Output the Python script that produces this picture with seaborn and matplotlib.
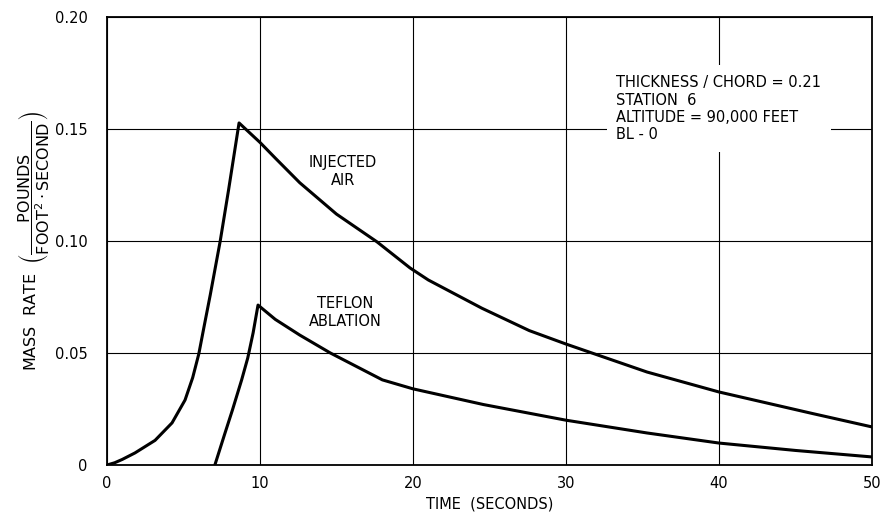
import matplotlib
matplotlib.use("Agg")
import matplotlib.pyplot as plt
import seaborn as sns
import pandas as pd

# style: plain white, black ink like the scanned report
sns.set_style("white")
plt.rcParams['font.family'] = ['DejaVu Sans']
plt.rcParams['mathtext.fontset'] = 'dejavusans'
plt.rcParams['text.color'] = 'black'
plt.rcParams['axes.labelcolor'] = 'black'

# values
air_time = [0, 0.5, 1.0, 1.83, 3.14, 4.25, 5.1, 5.6, 6.0, 6.35, 6.75, 7.4, 7.95, 8.63,
            10.0, 11.0, 12.6, 15.0, 17.65, 19.8, 21.0, 24.5, 27.6, 30.0,
            35.3, 40.0, 46.1, 50.0]
air_rate = [0, 0.001, 0.0025, 0.0054, 0.011, 0.0188, 0.029, 0.039, 0.0496, 0.062, 0.076,
            0.100, 0.123, 0.1527,
            0.144, 0.137, 0.126, 0.112, 0.0996, 0.088, 0.0826, 0.070, 0.060, 0.054,
            0.0415, 0.0326, 0.023, 0.017]

teflon_time = [7.05, 7.7, 8.2, 8.8, 9.2, 9.55, 9.87, 11.0, 12.6, 14.6, 18.0, 20.0, 24.6, 30.0,
               35.3, 40.0, 45.0, 50.0]
teflon_rate = [0, 0.014, 0.0246, 0.038, 0.0478, 0.059, 0.0714, 0.065, 0.058, 0.050, 0.038,
               0.034, 0.027, 0.020, 0.0143, 0.0098, 0.0065, 0.0036]

x_ticks = [0, 10, 20, 30, 40, 50]
y_ticks = [0, 0.05, 0.10, 0.15, 0.20]
y_tick_labels = ['0', '0.05', '0.10', '0.15', '0.20']

note_lines = ['THICKNESS / CHORD = 0.21', 'STATION  6',
              'ALTITUDE = 90,000 FEET', 'BL - 0']

air_df = pd.DataFrame({'time': air_time, 'rate': air_rate})
teflon_df = pd.DataFrame({'time': teflon_time, 'rate': teflon_rate})

fig = plt.figure(figsize=(8.8, 5.18), dpi=100)
ax = fig.add_axes([0.1216, 0.1023, 0.8693, 0.8649])

sns.lineplot(data=air_df, x='time', y='rate', ax=ax, color='black', lw=2.2,
             sort=False, estimator=None)
sns.lineplot(data=teflon_df, x='time', y='rate', ax=ax, color='black', lw=2.2,
             sort=False, estimator=None)

ax.set_xlim(0, 50)
ax.set_ylim(0, 0.2)
ax.set_xticks(x_ticks)
ax.set_xticklabels([str(t) for t in x_ticks])
ax.set_yticks(y_ticks)
ax.set_yticklabels(y_tick_labels)
ax.tick_params(length=0, labelsize=10.5, colors='black')
ax.tick_params(axis='y', pad=14)
ax.tick_params(axis='x', pad=8)
ax.grid(True, color='black', lw=0.8)
for s in ax.spines.values():
    s.set_color('black')
    s.set_linewidth(1.3)

ax.set_xlabel('TIME  (SECONDS)', fontsize=10.5, labelpad=4)
ax.set_ylabel(r'MASS  RATE  $\left(\dfrac{\mathsf{POUNDS}}{\mathsf{FOOT^2 \cdot SECOND}}\right)$',
              fontsize=11.5, labelpad=2)

# curve labels
ax.text(15.4, 0.131, 'INJECTED\nAIR', ha='center', va='center', fontsize=10.5,
        linespacing=1.2)
ax.text(15.55, 0.068, 'TEFLON\nABLATION', ha='center', va='center', fontsize=10.5,
        linespacing=1.2)

# condition note, white box breaks the grid
ax.text(33.3, 0.174, '\n'.join(note_lines), ha='left', va='top', fontsize=10.5,
        linespacing=1.2,
        bbox=dict(facecolor='white', edgecolor='none', pad=7))

fig.savefig('out.png', dpi=100)
